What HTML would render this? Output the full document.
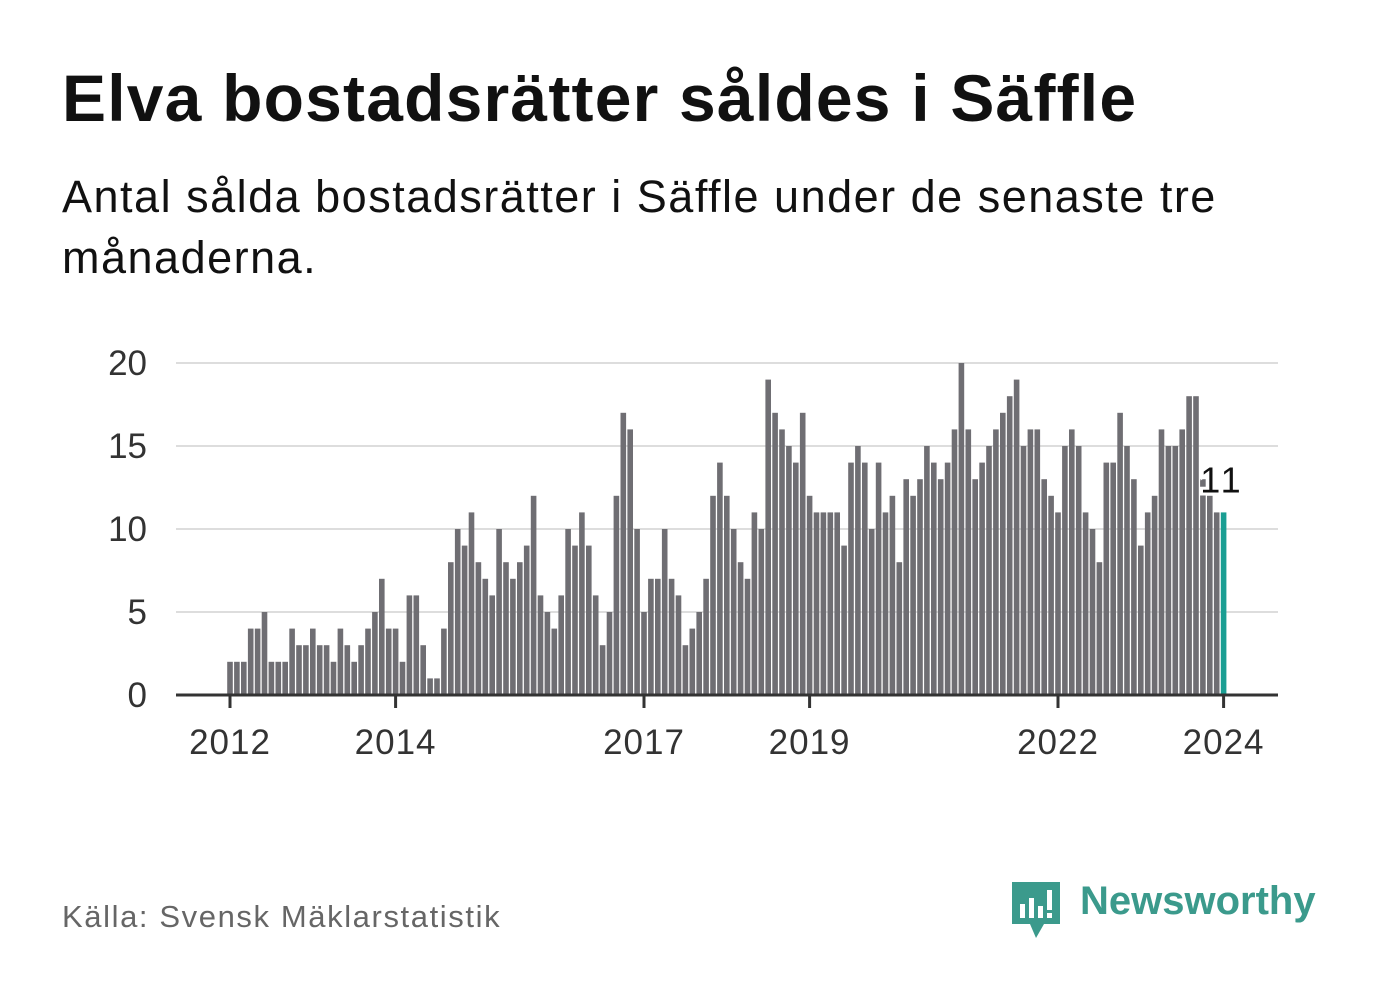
<!DOCTYPE html>
<html><head><meta charset="utf-8"><style>
body{margin:0;width:1382px;height:999px;background:#fff;font-family:"Liberation Sans",sans-serif;overflow:hidden;position:relative}
.t{position:absolute;left:62px;top:60px;font-size:66px;font-weight:bold;color:#111;letter-spacing:1.2px}
.s{position:absolute;left:62px;top:166px;font-size:45px;color:#111;line-height:61px;width:1300px;letter-spacing:1.5px}
.src{position:absolute;left:62px;top:899px;font-size:31px;color:#666;letter-spacing:1.6px}
.logo{position:absolute;left:1080px;top:879px;font-size:40px;font-weight:bold;color:#3b9a8c}
</style></head><body>
<div class="t">Elva bostadsrätter såldes i Säffle</div>
<div class="s">Antal sålda bostadsrätter i Säffle under de senaste tre<br>månaderna.</div>
<div class="src">Källa: Svensk Mäklarstatistik</div>
<svg style="position:absolute;left:1010px;top:880px" width="52" height="60"><path d="M2 2H50V44H34L26 58L20 44H2Z" fill="#3b9a8c"/><rect x="10" y="24" width="5" height="14" fill="#fff"/><rect x="19" y="18" width="5" height="20" fill="#fff"/><rect x="28" y="26" width="5" height="12" fill="#fff"/><rect x="37" y="10" width="5" height="20" fill="#fff"/><rect x="37" y="33" width="5" height="5" fill="#fff"/></svg>
<div class="logo">Newsworthy</div>
<svg id="c" width="1382" height="999" style="position:absolute;left:0;top:0"></svg>
<script>
const values=[2,2,2,4,4,5,2,2,2,4,3,3,
4,3,3,2,4,3,2,3,4,5,7,4,
4,2,6,6,3,1,1,4,8,10,9,11,
8,7,6,10,8,7,8,9,12,6,5,4,
6,10,9,11,9,6,3,5,12,17,16,10,
5,7,7,10,7,6,3,4,5,7,12,14,
12,10,8,7,11,10,19,17,16,15,14,17,
12,11,11,11,11,9,14,15,14,10,14,11,
12,8,13,12,13,15,14,13,14,16,20,16,
13,14,15,16,17,18,19,15,16,16,13,12,
11,15,16,15,11,10,8,14,14,17,15,13,
9,11,12,16,15,15,16,18,18,13,12,11,
11];
const yTicks=[0,5,10,15,20];
const xTickYears=[2012,2014,2017,2019,2022,2024];
const startYear=2012;
const NS="http://www.w3.org/2000/svg";
const svg=document.getElementById('c');
const x0=230,pm=6.9,yb=695,pu=16.6;
const X=i=>x0+i*pm, Y=v=>yb-v*pu;
function mk(t,a){const e=document.createElementNS(NS,t);for(const k in a)e.setAttribute(k,a[k]);svg.appendChild(e);return e;}
yTicks.forEach(v=>{
 if(v>0){const g=mk('line',{x1:176,x2:1278,y1:Y(v),y2:Y(v),stroke:'#ddd','stroke-width':2});
 
 }
 const t=mk('text',{x:147,y:Y(v)+12,'text-anchor':'end','font-size':35,fill:'#333','font-family':'Liberation Sans, sans-serif'});
 t.textContent=v;
 
 
});
values.forEach((v,i)=>{
 const last=i===values.length-1;
 const r=mk('rect',{x:X(i)-2.8,y:Y(v),width:5.6,height:v*pu,fill:last?'#1a9e93':'#6f6e73'});
 
 
});
const ax=mk('line',{x1:176,x2:1278,y1:yb,y2:yb,stroke:'#333','stroke-width':3});


xTickYears.forEach(yr=>{
 const xx=X((yr-startYear)*12);
 const tk=mk('line',{x1:xx,x2:xx,y1:yb,y2:yb+13,stroke:'#333','stroke-width':3});
 
 
 const t=mk('text',{x:xx,y:yb+59,'text-anchor':'middle','font-size':35,fill:'#333','letter-spacing':1,'font-family':'Liberation Sans, sans-serif'});
 t.textContent=yr;
 
 
});
const li=values.length-1;
const lb=mk('text',{x:X(li)+20,y:Y(values[li])-20,'text-anchor':'end','font-size':36,fill:'#111',stroke:'#fff','stroke-width':6,'paint-order':'stroke','letter-spacing':3,'font-family':'Liberation Sans, sans-serif'});
lb.textContent=values[li];


</script>
</body></html>
